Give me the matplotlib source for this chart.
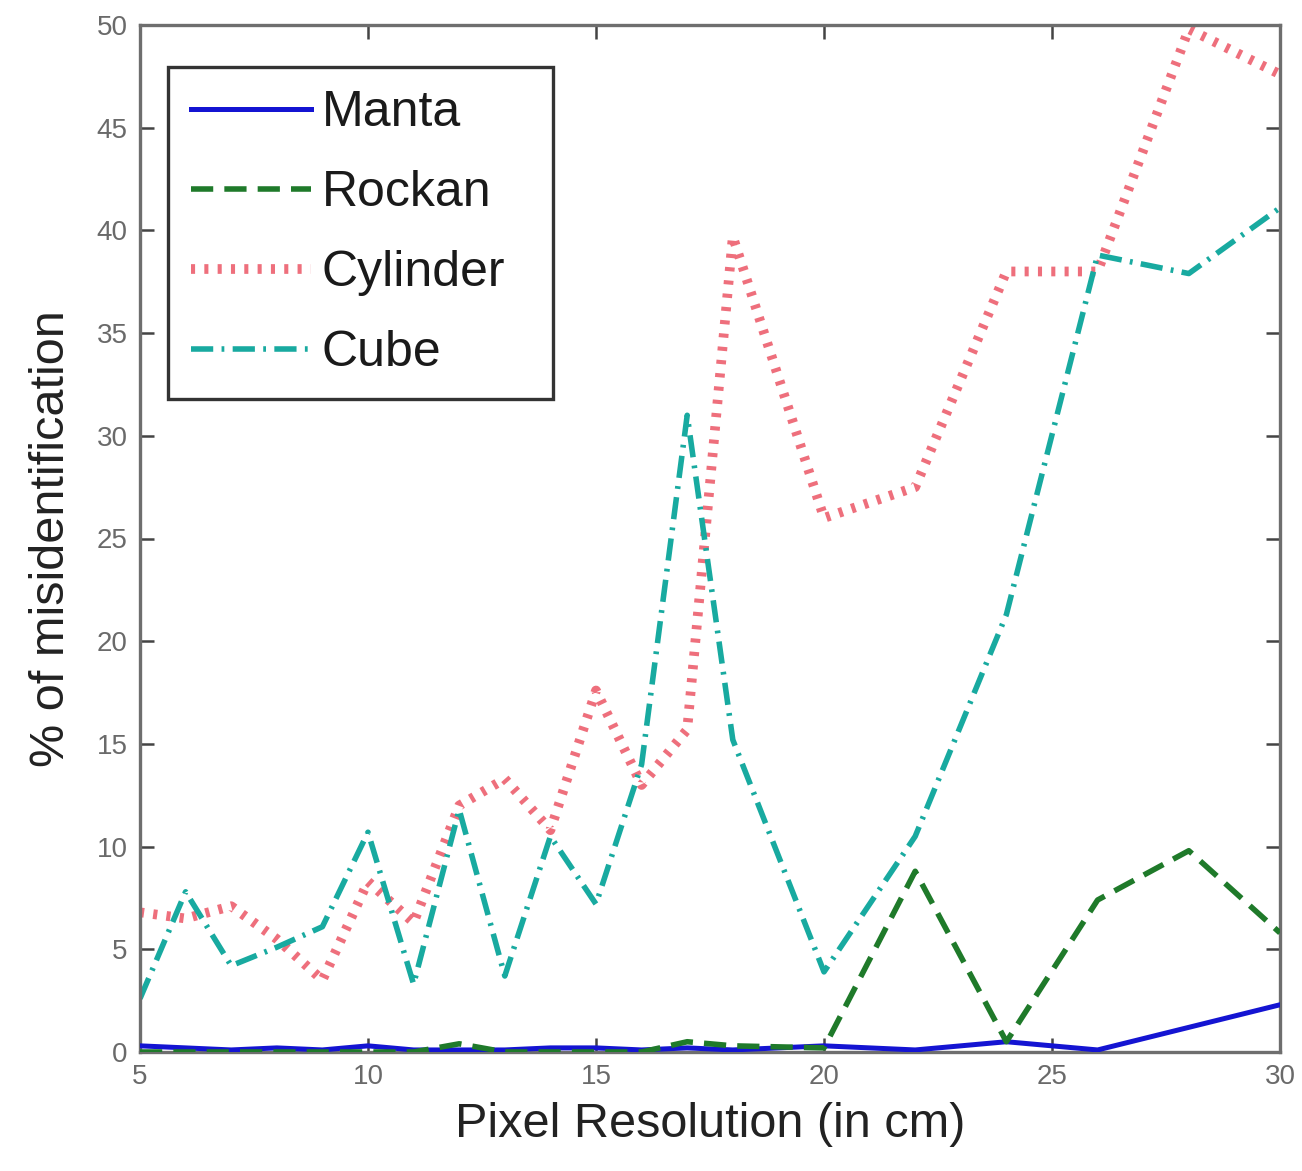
import matplotlib
matplotlib.use("Agg")
import matplotlib.pyplot as plt

# Pixel resolution (cm) sampled for every target class
resolution = [5, 6, 7, 8, 9, 10, 11, 12, 13, 14, 15, 16, 17, 18, 20, 22, 24, 26, 28, 30]

# Percentage of misidentification per target class
manta = [0.3, 0.2, 0.1, 0.2, 0.1, 0.3, 0.1, 0.1, 0.1, 0.2, 0.2, 0.1, 0.2, 0.1, 0.3, 0.1, 0.5, 0.1, 1.2, 2.3]
rockan = [0.0, 0.0, 0.0, 0.0, 0.0, 0.0, 0.0, 0.4, 0.0, 0.0, 0.0, 0.0, 0.5, 0.3, 0.2, 8.8, 0.5, 7.4, 9.8, 5.8]
cylinder = [6.8, 6.5, 7.1, 5.5, 3.5, 8.3, 6.3, 12.0, 13.3, 10.8, 17.6, 13.0, 15.7, 39.7, 26.0, 27.5, 38.0, 38.0, 49.8, 47.6]
cube = [2.6, 7.8, 4.2, 5.1, 6.1, 10.7, 3.3, 11.8, 3.7, 10.5, 7.2, 14.0, 31.0, 15.2, 3.9, 10.5, 21.3, 38.8, 37.9, 41.1]

x_ticks = [5, 10, 15, 20, 25, 30]
y_ticks = [0, 5, 10, 15, 20, 25, 30, 35, 40, 45, 50]

plt.rcParams["font.family"] = ["Liberation Sans", "DejaVu Sans"]

W, H = 1302, 1171
fig = plt.figure(figsize=(W / 100, H / 100), dpi=100)
ax_left, ax_right, ax_top, ax_bottom = 140, 1280, 25, 1052
ax = fig.add_axes([ax_left / W, 1 - ax_bottom / H,
                   (ax_right - ax_left) / W, (ax_bottom - ax_top) / H])

ax.plot(resolution, manta, color="#1414d2", linewidth=3.6, linestyle="-",
        label="Manta", zorder=3)
ax.plot(resolution, rockan, color="#1f7a2a", linewidth=4.0,
        linestyle=(0, (4.0, 2.0)), label="Rockan", zorder=3)
ax.plot(resolution, cylinder, color="#ee6f7c", linewidth=7.0,
        linestyle=(0, (0.42, 0.95)), dash_capstyle="butt",
        label="Cylinder", zorder=2)
ax.plot(resolution, cube, color="#18aaa0", linewidth=4.0,
        linestyle=(0, (4.0, 1.5, 0.5, 1.5)), label="Cube", zorder=2)

ax.set_xlim(5, 30)
ax.set_ylim(0, 50)
ax.set_xticks(x_ticks)
ax.set_yticks(y_ticks)
ax.set_xticklabels([str(v) for v in x_ticks])
ax.set_yticklabels([str(v) for v in y_ticks])

ax.tick_params(direction="in", length=10, width=1.8, color="#444444",
               labelsize=20, labelcolor="#6a6a6a", top=True, right=True,
               pad=9)
for side in ax.spines.values():
    side.set_color("#6e6e6e")
    side.set_linewidth(2.4)

ax.set_xlabel("Pixel Resolution (in cm)", fontsize=35, color="#222222",
              labelpad=8)
ax.set_ylabel("% of misidentification", fontsize=35, color="#222222",
              labelpad=16)

ax_w = ax_right - ax_left
ax_h = ax_bottom - ax_top
leg_l, leg_r, leg_t, leg_b = 168, 553, 67, 397
leg = ax.legend(loc="upper left",
                bbox_to_anchor=((leg_l - ax_left) / ax_w, (ax_bottom - leg_b) / ax_h,
                                (leg_r - leg_l) / ax_w, (leg_b - leg_t) / ax_h),
                mode="expand", borderaxespad=0, fontsize=36, frameon=True,
                fancybox=False, handlelength=2.4, handletextpad=0.22,
                labelspacing=0.68, borderpad=0.46)
frame = leg.get_frame()
frame.set_edgecolor("#333333")
frame.set_linewidth(2.4)
frame.set_alpha(1.0)
for txt in leg.get_texts():
    txt.set_color("#1a1a1a")

fig.savefig("out.png", dpi=100)
